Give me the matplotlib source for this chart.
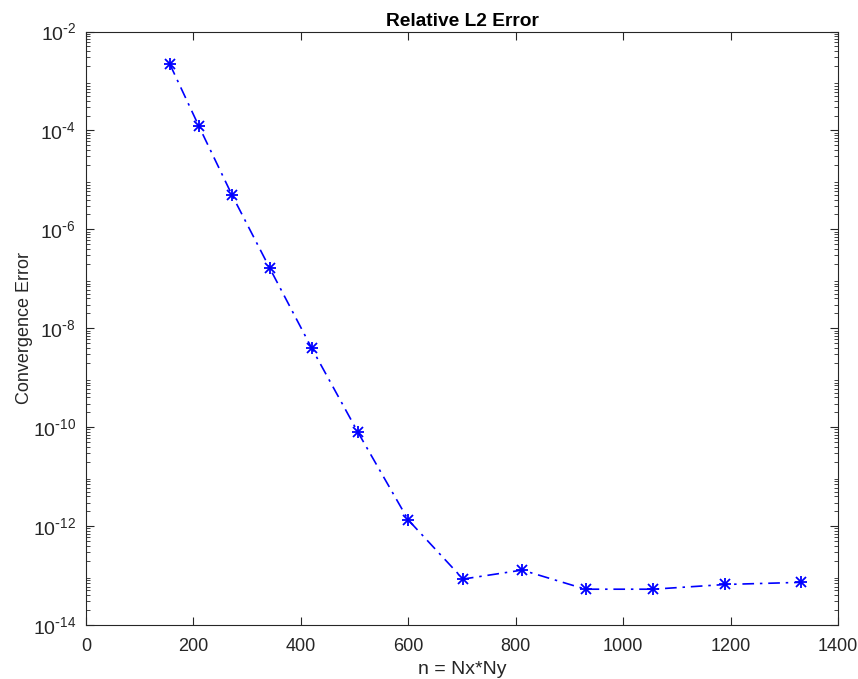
import matplotlib
matplotlib.use("Agg")
import matplotlib.pyplot as plt
from matplotlib.ticker import LogLocator, NullFormatter

plt.rcParams['font.family'] = ['Liberation Sans', 'DejaVu Sans']
plt.rcParams['axes.unicode_minus'] = False

n_values = [156, 210, 272, 342, 420, 506, 600, 702, 812, 930, 1056, 1190, 1332]
errors = [2.2e-3, 1.23e-4, 4.9e-6, 1.65e-7, 4.0e-9, 8.0e-11, 1.33e-12,
          8.5e-14, 1.29e-13, 5.3e-14, 5.3e-14, 6.6e-14, 7.3e-14]
x_ticks = [0, 200, 400, 600, 800, 1000, 1200, 1400]
y_decades = list(range(-14, -1, 2))

fig = plt.figure(figsize=(8.58, 6.79), dpi=100)
ax = fig.add_axes([0.1002, 0.0795, 0.8765, 0.8741])
ax.semilogy(n_values, errors, color='blue', linestyle=(0, (7, 3.5, 1.5, 3.5)),
            linewidth=1.2)
ax.semilogy(n_values, errors, linestyle='none', color='blue', marker='+',
            markersize=9, markeredgewidth=1.3)
ax.semilogy(n_values, errors, linestyle='none', color='blue', marker='x',
            markersize=6.5, markeredgewidth=1.3)

ax.set_xlim(0, 1400)
ax.set_ylim(1e-14, 1e-2)
ax.set_xticks(x_ticks)
ax.set_yticks([10.0**k for k in y_decades])
ax.set_yticklabels([r'$\mathregular{10^{\text{-}%d}}$' % (-k) for k in y_decades])
ax.yaxis.set_minor_locator(LogLocator(base=10, subs=range(2, 10), numticks=100))
ax.yaxis.set_minor_formatter(NullFormatter())

gray = '#262626'
for s in ax.spines.values():
    s.set_color(gray)
    s.set_linewidth(0.8)
ax.tick_params(which='both', direction='in', top=True, right=True, colors=gray,
               labelcolor=gray)
ax.tick_params(axis='x', labelsize=13, pad=9)
ax.tick_params(axis='y', labelsize=14, pad=7)
ax.tick_params(which='major', length=6)
ax.tick_params(which='minor', length=3)

ax.set_xlabel('n = Nx*Ny', fontsize=14, color=gray, labelpad=5)
ax.set_ylabel('Convergence Error', fontsize=13, color=gray, labelpad=0)
ax.set_title('Relative L2 Error', fontsize=13.8, fontweight='bold', color='black', pad=4)

fig.savefig('out.png', dpi=100)
